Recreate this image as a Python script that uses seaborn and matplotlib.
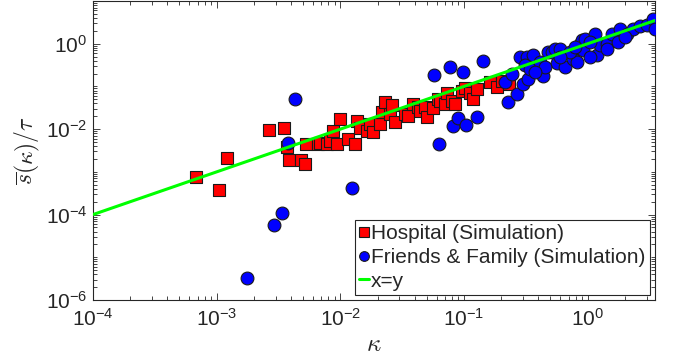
import numpy as np
import pandas as pd
import matplotlib
matplotlib.use("Agg")
import matplotlib.pyplot as plt
from matplotlib.ticker import FixedLocator, LogLocator, NullFormatter, LogFormatterSciNotation
from matplotlib.lines import Line2D
import seaborn as sns

# ---- data ----
hosp_kappa = [6.81e-4, 1.045e-3, 1.21e-3, 2.65e-3, 3.50e-3, 3.70e-3, 3.85e-3, 4.81e-3, 5.18e-3,
              5.27e-3, 6.59e-3, 6.84e-3, 7.80e-3, 8.24e-3, 8.71e-3, 9.40e-3, 9.93e-3, 1.15e-2,
              1.31e-2, 1.36e-2, 1.44e-2, 1.64e-2, 1.73e-2, 1.84e-2, 2.09e-2, 2.17e-2, 2.30e-2,
              2.52e-2, 2.61e-2, 2.76e-2, 3.33e-2, 3.52e-2, 3.86e-2, 4.24e-2, 4.41e-2, 4.83e-2,
              5.01e-2, 5.61e-2, 6.15e-2, 6.38e-2, 7.01e-2, 7.28e-2, 7.98e-2, 8.43e-2, 9.61e-2,
              0.102, 0.112, 0.118, 0.127, 0.162, 0.185, 0.202, 0.231]
hosp_s = [7.66e-4, 3.81e-4, 2.12e-3, 9.48e-3, 1.05e-2, 3.81e-3, 1.90e-3, 1.90e-3, 1.53e-3,
          4.48e-3, 4.48e-3, 4.72e-3, 4.48e-3, 5.26e-3, 8.97e-3, 4.48e-3, 1.71e-2, 5.85e-3,
          4.48e-3, 1.53e-2, 1.05e-2, 8.97e-3, 1.31e-2, 8.51e-3, 1.31e-2, 2.48e-2, 4.25e-2,
          2.23e-2, 3.61e-2, 1.46e-2, 2.23e-2, 2.00e-2, 3.81e-2, 3.25e-2, 2.62e-2, 3.25e-2,
          1.90e-2, 3.08e-2, 4.99e-2, 4.48e-2, 3.81e-2, 6.87e-2, 4.48e-2, 3.81e-2, 7.66e-2,
          8.97e-2, 6.87e-2, 4.99e-2, 8.51e-2, 0.124, 9.48e-2, 0.131, 0.111]

ff_kappa = [1.76e-3, 2.90e-3, 3.37e-3, 3.77e-3, 4.30e-3, 1.24e-2, 5.71e-2, 7.69e-2, 9.79e-2,
            0.142, 6.27e-2, 8.13e-2, 8.93e-2, 0.104, 0.127, 0.214, 0.226, 0.244, 0.268, 0.283,
            0.299, 0.323, 0.311, 0.329, 0.341, 0.361, 0.434, 0.476, 0.514, 0.543, 0.564, 0.596,
            0.655, 0.759, 0.818, 0.865, 0.898, 0.914, 0.948, 1.14, 1.19, 1.26, 1.43, 1.43, 1.57,
            1.75, 1.82, 2.07, 2.32, 2.64, 3.01, 3.37, 3.49,
            0.411, 0.451, 1.04, 0.718, 2.00, 0.374, 0.596, 1.04, 0.789]
ff_s = [3.25e-6, 5.85e-5, 1.11e-4, 4.72e-3, 4.99e-2, 4.25e-4, 0.190, 0.292, 0.212,
        0.403, 4.48e-3, 1.17e-2, 1.80e-2, 1.24e-2, 1.90e-2, 0.124, 4.25e-2, 0.200, 6.52e-2, 0.499,
        0.111, 0.499, 0.325, 0.146, 0.262, 0.555, 0.171, 0.652, 0.652, 0.766, 0.361, 0.766,
        0.292, 0.448, 0.381, 1.00, 1.24, 0.724, 1.31, 1.71, 0.555, 0.948, 1.00, 0.766, 1.71,
        1.11, 2.23, 1.71, 2.23, 2.62, 2.77, 3.81, 2.23,
        0.381, 0.292, 1.11, 0.652, 1.46, 0.223, 0.499, 0.499, 0.851]

line_x = [1e-4, 3.5]          # x = y reference line
x_ticks = [1e-4, 1e-3, 1e-2, 1e-1, 1e0]
y_ticks = [1e-6, 1e-4, 1e-2, 1e0]
labels = ["Hospital (Simulation)", "Friends & Family (Simulation)", "x=y"]

hosp = pd.DataFrame({"kappa": hosp_kappa, "s": hosp_s})
ff = pd.DataFrame({"kappa": ff_kappa, "s": ff_s})
ref = pd.DataFrame({"x": line_x, "y": line_x})

# ---- style ----
sns.set_theme(style="ticks")
plt.rcParams["font.family"] = ["Liberation Sans", "DejaVu Sans"]
plt.rcParams["mathtext.fontset"] = "custom"
plt.rcParams["mathtext.rm"] = "Liberation Sans"
plt.rcParams["mathtext.it"] = "Liberation Sans:italic"
plt.rcParams["mathtext.bf"] = "Liberation Sans:bold"

fig = plt.figure(figsize=(6.79, 3.62), dpi=100)
ax = fig.add_axes([93/679, 1 - 300/362, (655 - 93)/679, (300 - 1)/362])

sns.scatterplot(data=hosp, x="kappa", y="s", marker="s", color=(1, 0, 0), s=75,
                edgecolor=(0.1, 0.1, 0.1), linewidth=0.8, ax=ax, zorder=2, legend=False)
sns.scatterplot(data=ff, x="kappa", y="s", marker="o", color=(0, 0, 1), s=85,
                edgecolor=(0.1, 0.1, 0.1), linewidth=0.8, ax=ax, zorder=3, legend=False)
sns.lineplot(data=ref, x="x", y="y", color=(0, 1, 0), linewidth=2.2, ax=ax, zorder=4)

ax.set_xscale("log")
ax.set_yscale("log")
ax.set_xlim(1e-4, 3.5)
ax.set_ylim(1e-6, 10)

ax.xaxis.set_major_locator(FixedLocator(x_ticks))
ax.yaxis.set_major_locator(FixedLocator(y_ticks))
ax.xaxis.set_major_formatter(LogFormatterSciNotation())
ax.yaxis.set_major_formatter(LogFormatterSciNotation())
for axis in (ax.xaxis, ax.yaxis):
    axis.set_minor_locator(LogLocator(base=10, subs=np.arange(1, 10), numticks=100))
    axis.set_minor_formatter(NullFormatter())

dark = (0.15, 0.15, 0.15)
ax.tick_params(which="both", direction="in", top=True, right=True, colors=dark,
               labelcolor=dark, width=0.6)
ax.tick_params(which="major", length=5, labelsize=15)
ax.tick_params(axis="x", which="major", pad=6)
ax.tick_params(axis="y", which="major", pad=4)
ax.tick_params(which="minor", length=3)
for sp in ax.spines.values():
    sp.set_color(dark)
    sp.set_linewidth(0.8)

ax.set_xlabel(r"$\kappa$", fontsize=18, math_fontfamily="cm", labelpad=1)
ax.set_ylabel(r"$\overline{s}(\kappa)/\tau$", fontsize=17, math_fontfamily="cm", labelpad=3)

handles = [
    Line2D([], [], linestyle="none", marker="s", markersize=7, markerfacecolor=(1, 0, 0),
           markeredgecolor=(0.1, 0.1, 0.1), markeredgewidth=0.8),
    Line2D([], [], linestyle="none", marker="o", markersize=7, markerfacecolor=(0, 0, 1),
           markeredgecolor=(0.1, 0.1, 0.1), markeredgewidth=0.8),
    Line2D([], [], color=(0, 1, 0), linewidth=2.2),
]
leg = ax.legend(handles, labels, loc="lower right", bbox_to_anchor=(1, 0), fontsize=15,
                frameon=True, fancybox=False, framealpha=1, edgecolor=dark,
                handlelength=0.5, handletextpad=0.1, labelspacing=0.22, borderpad=0.2,
                borderaxespad=0.25)
leg.get_frame().set_linewidth(0.8)

fig.savefig("out.png", dpi=100)
